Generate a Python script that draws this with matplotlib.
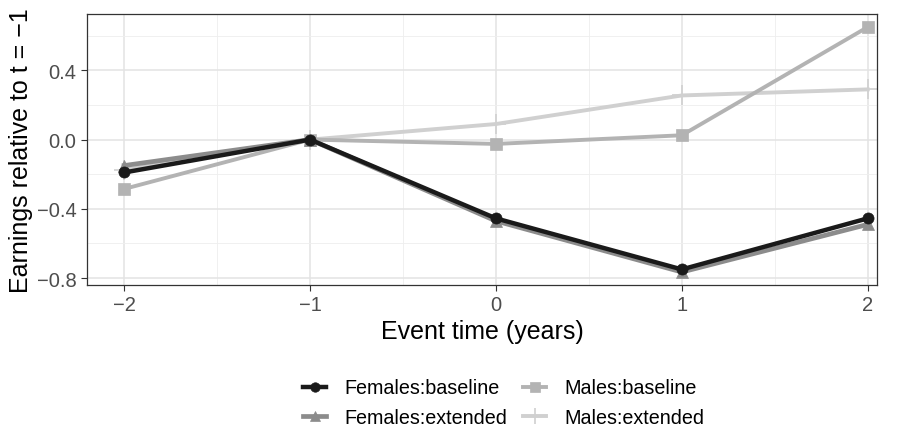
import matplotlib
matplotlib.use("Agg")
import matplotlib.pyplot as plt
from matplotlib.ticker import MultipleLocator

plt.rcParams['font.family'] = ['Liberation Sans', 'DejaVu Sans']

event_time = [-2, -1, 0, 1, 2]
females_baseline = [-0.19, 0.0, -0.455, -0.75, -0.455]
females_extended = [-0.15, 0.0, -0.47, -0.765, -0.49]
males_baseline = [-0.285, 0.0, -0.025, 0.025, 0.65]
males_extended = [-0.175, 0.0, 0.09, 0.255, 0.29]

labels = ['Females:baseline', 'Females:extended', 'Males:baseline', 'Males:extended']
colors = ['#1a1a1a', '#8c8c8c', '#b3b3b3', '#d0d0d0']
markers = ['o', '^', 's', '+']

fig = plt.figure(figsize=(8.99, 4.31), dpi=100)
ax = fig.add_axes([0.0968, 0.3364, 0.8787, 0.6286])

series = [females_baseline, females_extended, males_baseline, males_extended]
widths = [3.2, 3.4, 2.8, 2.8]
zord = [4, 3, 2, 1]
handles = []
for vals, lab, c, m, lw, z in zip(series, labels, colors, markers, widths, zord):
    ms = 14 if m == '+' else 8
    h, = ax.plot(event_time, vals, color=c, marker=m, lw=lw, ms=ms,
                 markeredgewidth=1.2 if m == '+' else 0.5, markeredgecolor=c,
                 label=lab, zorder=z)
    handles.append(h)

ax.set_xlim(-2.2, 2.05)
ax.set_ylim(-0.84, 0.725)
ax.set_xticks(event_time)
ax.set_xticklabels(['\u22122', '\u22121', '0', '1', '2'])
ax.set_yticks([-0.8, -0.4, 0.0, 0.4])
ax.set_yticklabels(['\u22120.8', '\u22120.4', '0.0', '0.4'])
ax.xaxis.set_minor_locator(MultipleLocator(0.5))
ax.yaxis.set_minor_locator(MultipleLocator(0.2))
ax.grid(True, which='major', color='#e3e3e3', lw=1.1, zorder=0)
ax.grid(True, which='minor', color='#eeeeee', lw=0.6, zorder=0)
ax.set_axisbelow(True)
ax.tick_params(which='major', length=4, color='#333333', labelcolor='#4d4d4d', labelsize=14.5)
ax.tick_params(which='minor', length=0)
for s in ax.spines.values():
    s.set_color('#333333')
    s.set_linewidth(0.9)

ax.set_xlabel('Event time (years)', fontsize=18, labelpad=3)
ax.set_ylabel('Earnings relative to t = \u22121', fontsize=18, labelpad=3)

fig.legend(handles=handles, labels=labels, ncol=2, loc='center',
           bbox_to_anchor=(0.56, 0.063), frameon=False, fontsize=14.2,
           handlelength=1.2, columnspacing=0.8, labelspacing=0.55,
           handletextpad=0.9, markerscale=0.85)

fig.savefig('out.png', dpi=100)
